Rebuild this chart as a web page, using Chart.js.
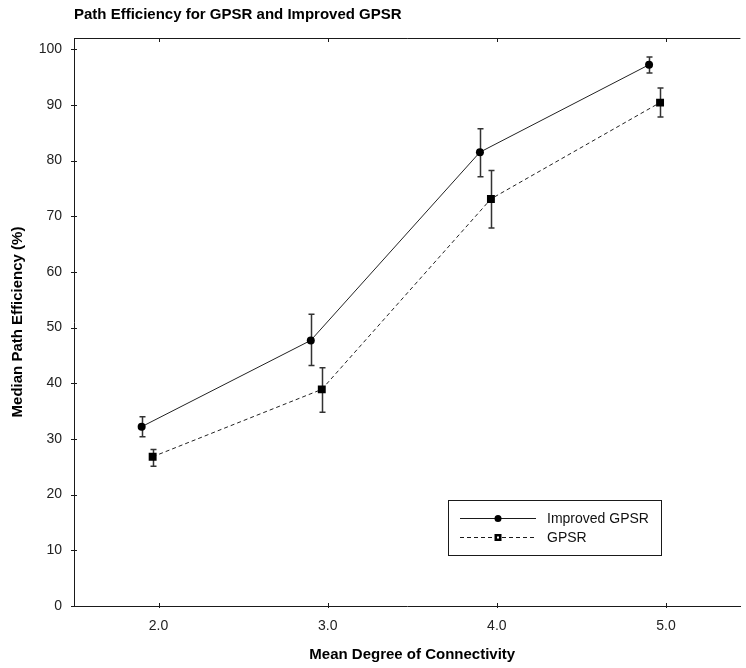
<!DOCTYPE html>
<html>
<head>
<meta charset="utf-8">
<script src="https://cdn.jsdelivr.net/npm/chart.js@4"></script>
<style>
  html, body { margin: 0; padding: 0; background: #fff; overflow: hidden; }
  canvas { display: block; }
</style>
</head>
<body>
<canvas id="chart" width="746" height="668"></canvas>
<script>
// values
const seriesNames = ['Improved GPSR', 'GPSR'];
const xImproved = [1.9, 2.9, 3.9, 4.9];
const yImproved = [32.2, 47.7, 81.5, 97.2];
const errLowImproved = [30.4, 43.2, 77.1, 95.7];
const errHighImproved = [34.0, 52.4, 85.7, 98.6];
const xGpsr = [1.965, 2.965, 3.965, 4.965];
const yGpsr = [26.8, 38.9, 73.1, 90.4];
const errLowGpsr = [25.1, 34.8, 67.9, 87.8];
const errHighGpsr = [28.1, 42.8, 78.2, 93.0];
const xTicks = [2, 3, 4, 5];
const yTicks = [0, 10, 20, 30, 40, 50, 60, 70, 80, 90, 100];
// the original x range was 1.5 - 5.5, the picture is cut off on the right
const xFullRange = [1.5, 5.5];

const FONT = 'Liberation Sans, Arial, sans-serif';
const INK = '#1a1a1a';

const toPoints = (xs, ys) => xs.map((x, i) => ({ x: x, y: ys[i] }));

// titles, top frame line and the small tick marks
const framePlugin = {
    id: 'frame',
    afterDraw(chart) {
        const ctx = chart.ctx;
        const area = chart.chartArea;
        const xs = chart.scales.x;
        const ys = chart.scales.y;
        ctx.save();
        ctx.fillStyle = '#000';
        ctx.font = 'bold 15px ' + FONT;
        ctx.textBaseline = 'middle';
        ctx.textAlign = 'left';
        ctx.fillText('Path Efficiency for GPSR and Improved GPSR', area.left, 15);

        ctx.textAlign = 'center';
        const mid = xs.getPixelForValue((xFullRange[0] + xFullRange[1]) / 2);
        ctx.fillText('Mean Degree of Connectivity', mid, 655);

        ctx.strokeStyle = INK;
        ctx.lineWidth = 1;
        ctx.beginPath();
        ctx.moveTo(area.left, area.top + 0.5);
        ctx.lineTo(area.right, area.top + 0.5);
        xTicks.forEach(v => {
            const px = Math.round(xs.getPixelForValue(v)) + 0.5;
            ctx.moveTo(px, area.top);
            ctx.lineTo(px, area.top + 4);
            ctx.moveTo(px, area.bottom - 3);
            ctx.lineTo(px, area.bottom + 2);
        });
        yTicks.forEach(v => {
            const py = Math.round(ys.getPixelForValue(v)) + 0.5;
            ctx.moveTo(area.left - 3, py);
            ctx.lineTo(area.left + 3, py);
        });
        ctx.stroke();
        ctx.restore();
    }
};

// vertical error bars with caps
const errorBarPlugin = {
    id: 'errorBars',
    beforeDatasetsDraw(chart) {
        const ctx = chart.ctx;
        const xs = chart.scales.x;
        const ys = chart.scales.y;
        const sets = [
            [xImproved, errLowImproved, errHighImproved],
            [xGpsr, errLowGpsr, errHighGpsr]
        ];
        ctx.save();
        ctx.strokeStyle = '#333';
        ctx.lineWidth = 1.5;
        sets.forEach(([xv, lo, hi]) => {
            xv.forEach((x, i) => {
                const px = Math.round(xs.getPixelForValue(x)) + 0.5;
                const top = ys.getPixelForValue(hi[i]);
                const bot = ys.getPixelForValue(lo[i]);
                ctx.beginPath();
                ctx.moveTo(px, top);
                ctx.lineTo(px, bot);
                ctx.moveTo(px - 3, top);
                ctx.lineTo(px + 3, top);
                ctx.moveTo(px - 3, bot);
                ctx.lineTo(px + 3, bot);
                ctx.stroke();
            });
        });
        ctx.restore();
    }
};

// boxed legend inside the plot, line + marker samples
const legendPlugin = {
    id: 'boxLegend',
    afterDraw(chart) {
        const ctx = chart.ctx;
        const left = 448, top = 500, w = 213, h = 55;
        ctx.save();
        ctx.strokeStyle = INK;
        ctx.lineWidth = 1;
        ctx.strokeRect(left + 0.5, top + 0.5, w, h);
        ctx.font = '14px ' + FONT;
        ctx.textBaseline = 'middle';
        const rows = [
            { y: 518.5, dash: [], marker: 'circle' },
            { y: 537.5, dash: [4, 3], marker: 'square' }
        ];
        rows.forEach((r, i) => {
            ctx.setLineDash(r.dash);
            ctx.beginPath();
            ctx.moveTo(460, r.y);
            ctx.lineTo(536, r.y);
            ctx.stroke();
            ctx.setLineDash([]);
            ctx.fillStyle = '#000';
            if (r.marker === 'circle') {
                ctx.beginPath();
                ctx.arc(498, r.y, 3.5, 0, Math.PI * 2);
                ctx.fill();
            } else {
                ctx.fillRect(494.5, r.y - 3.5, 7, 7);
                ctx.fillStyle = '#fff';
                ctx.fillRect(497, r.y - 1, 2, 2);
            }
            ctx.fillStyle = '#111';
            ctx.fillText(seriesNames[i], 547, r.y + 1);
        });
        ctx.restore();
    }
};

new Chart(document.getElementById('chart'), {
    type: 'scatter',
    data: {
        datasets: [{
            label: seriesNames[0],
            data: toPoints(xImproved, yImproved),
            showLine: true,
            borderColor: '#222',
            borderWidth: 1,
            pointStyle: 'circle',
            pointRadius: 4,
            pointBackgroundColor: '#000',
            pointBorderColor: '#000',
            pointBorderWidth: 0
        }, {
            label: seriesNames[1],
            data: toPoints(xGpsr, yGpsr),
            showLine: true,
            borderColor: '#222',
            borderWidth: 1,
            borderDash: [4, 3],
            pointStyle: 'rect',
            pointRadius: 5.6,
            pointBackgroundColor: '#000',
            pointBorderColor: '#000',
            pointBorderWidth: 0
        }]
    },
    options: {
        responsive: false,
        devicePixelRatio: 1,
        animation: false,
        layout: { padding: { top: 38, right: 0, left: 0, bottom: 0 } },
        plugins: {
            legend: { display: false },
            tooltip: { enabled: false }
        },
        scales: {
            x: {
                type: 'linear',
                min: xFullRange[0],
                max: 5.44,
                afterBuildTicks: s => { s.ticks = xTicks.map(v => ({ value: v })); },
                afterFit: s => { s.height = 62; },
                grid: { display: false, drawTicks: false },
                border: { display: true, color: INK, width: 1 },
                ticks: {
                    padding: 12,
                    color: '#222',
                    font: { family: FONT, size: 14 },
                    callback: v => v.toFixed(1)
                }
            },
            y: {
                min: 0,
                max: 102,
                afterBuildTicks: s => { s.ticks = yTicks.map(v => ({ value: v })); },
                afterFit: s => { s.width = 74; },
                grid: { display: false, drawTicks: false },
                border: { display: true, color: INK, width: 1 },
                ticks: {
                    padding: 12,
                    color: '#222',
                    font: { family: FONT, size: 14 }
                },
                title: {
                    display: true,
                    text: 'Median Path Efficiency (%)',
                    color: '#000',
                    font: { family: FONT, size: 15, weight: 'bold' },
                    padding: { top: 9, bottom: 0 }
                }
            }
        }
    },
    plugins: [errorBarPlugin, framePlugin, legendPlugin]
});
</script>
</body>
</html>
